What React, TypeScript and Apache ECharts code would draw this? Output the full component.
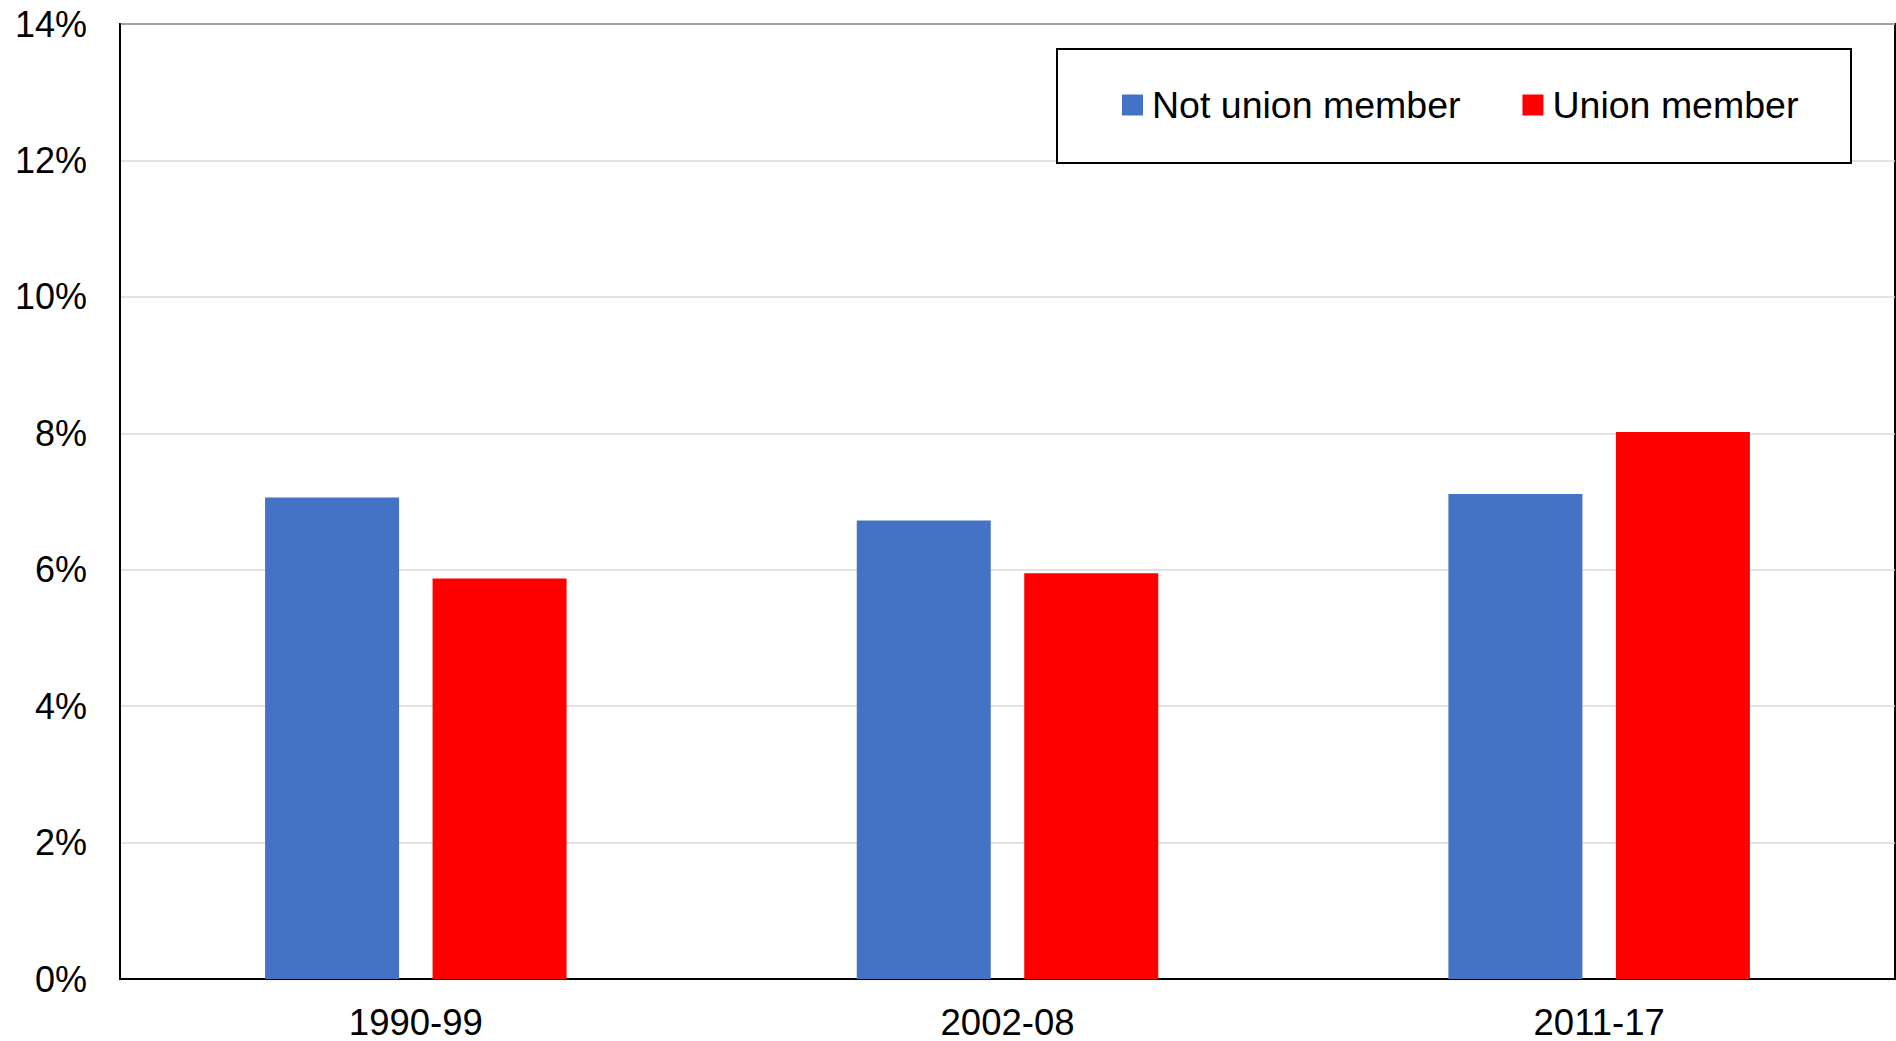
import React, { useEffect, useRef } from "react";
import * as echarts from "echarts";

const categories = ["1990-99", "2002-08", "2011-17"];
const notUnionMember = [7.06, 6.72, 7.11];
const unionMember = [5.87, 5.95, 8.02];
const seriesNames = ["Not union member", "Union member"];
const yTicks = { min: 0, max: 14, interval: 2 };

const FONT = "'Liberation Sans', Arial, sans-serif";

export default function App() {
  const ref = useRef<HTMLDivElement>(null);
  useEffect(() => {
    if (!ref.current) return;
    const chart = echarts.init(ref.current, undefined, { renderer: "svg" });
    chart.setOption({
      animation: false,
      backgroundColor: "#ffffff",
      textStyle: { fontFamily: FONT },
      grid: {
        left: 120,
        right: 1,
        top: 24,
        bottom: 62,
        show: true,
        borderColor: "#000000",
        borderWidth: 2,
        containLabel: false,
      },
      graphic: [
        {
          type: "rect",
          left: 1056,
          top: 48,
          shape: { width: 794, height: 114 },
          style: { fill: "#ffffff", stroke: "#000000", lineWidth: 2 },
          z: 10,
        },
      ],
      legend: {
        left: 1122,
        top: 86,
        padding: 0,
        itemWidth: 21,
        itemHeight: 21,
        itemGap: 62,
        icon: "rect",
        z: 20,
        textStyle: {
          fontSize: 37.5,
          color: "#000000",
          fontFamily: FONT,
          padding: [0, 0, 0, 4],
        },
        data: seriesNames,
      },
      xAxis: {
        type: "category",
        data: categories,
        axisTick: { show: false },
        axisLine: { show: true, lineStyle: { color: "#000000", width: 2 } },
        axisLabel: {
          fontSize: 36.5,
          lineHeight: 36,
          color: "#000000",
          margin: 25,
          fontFamily: FONT,
        },
        splitLine: { show: false },
      },
      yAxis: {
        type: "value",
        min: yTicks.min,
        max: yTicks.max,
        interval: yTicks.interval,
        axisLine: { show: true, lineStyle: { color: "#000000", width: 2 } },
        axisTick: { show: false },
        axisLabel: {
          fontSize: 36,
          color: "#000000",
          margin: 33,
          fontFamily: FONT,
          formatter: "{value}%",
        },
        splitLine: { show: true, lineStyle: { color: "#d9d9d9", width: 1.5 } },
      },
      series: [
        {
          name: seriesNames[0],
          type: "bar",
          data: notUnionMember,
          barWidth: 134,
          barGap: "25%",
          itemStyle: { color: "#4472C4" },
        },
        {
          name: seriesNames[1],
          type: "bar",
          data: unionMember,
          barWidth: 134,
          barGap: "25%",
          itemStyle: { color: "#FF0000" },
        },
      ],
    });
    const onResize = () => chart.resize();
    window.addEventListener("resize", onResize);
    return () => {
      window.removeEventListener("resize", onResize);
      chart.dispose();
    };
  }, []);
  return (
    <div
      ref={ref}
      style={{ position: "fixed", left: 0, top: 0, width: "1896px", height: "1041px" }}
    />
  );
}
